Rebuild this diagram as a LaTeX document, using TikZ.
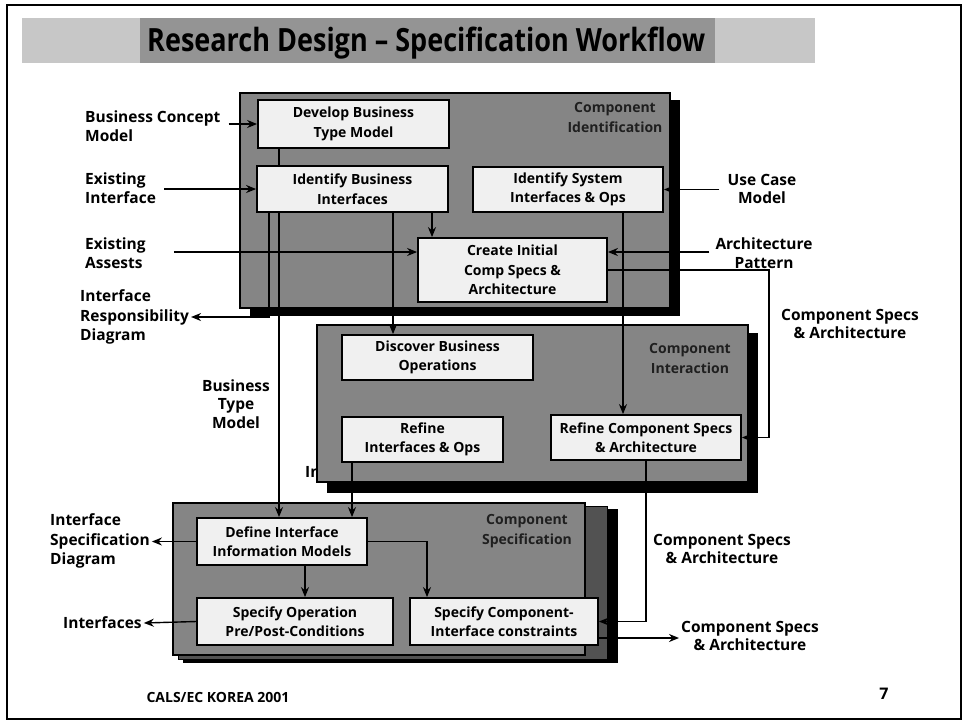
\documentclass[tikz,border=0pt]{standalone}
\usepackage{fontspec}
\setmainfont{Open Sans}
\usepackage{graphicx}
\usetikzlibrary{arrows.meta,calc}
\pgfdeclarelayer{under}
\pgfdeclarelayer{panels}
\pgfdeclarelayer{lines}
\pgfsetlayers{under,panels,lines,main}

\tikzset{
  box/.style={draw=black, line width=1.8pt, fill=black!6, align=center,
    font=\bfseries\fontsize{14}{19.5}\selectfont, inner sep=0pt},
  lbl/.style={align=left, font=\bfseries\fontsize{15.5}{19.5}\selectfont, inner sep=2pt},
  clbl/.style={align=center, font=\bfseries\fontsize{15.5}{18.5}\selectfont, inner sep=2pt},
  ptitle/.style={align=center, text=black!88, font=\bfseries\fontsize{14}{20}\selectfont},
  panel/.style={fill=black!48, draw=black, line width=1.2pt},
  arr/.style={draw=black, line width=1.4pt, -{Stealth[length=10pt,width=8pt]}},
}

\begin{document}
\begin{tikzpicture}[x=1pt,y=-1pt]
\useasboundingbox (0,0) rectangle (966,724);

\begin{pgfonlayer}{under}
  % page background
  \fill[white] (0,0) rectangle (966,724);
  % label tucked under the interaction panel
  \node[lbl, anchor=west] (ifchid) at (303,472) {Interfaces};
\end{pgfonlayer}

% slide frame
\draw[line width=1.4pt] (7,5) rectangle (961,719);

% title band
\fill[black!22] (22,18) rectangle (815,63);
\fill[black!42] (140,18) rectangle (715,63);
\node[anchor=base west, inner sep=0pt] (title) at (147,51)
  {\resizebox{558pt}{\height}{\bfseries\fontsize{32}{32}\selectfont Research Design – Specification Workflow}};

% stage panels with their shadows
\begin{pgfonlayer}{panels}
  % Component Identification
  \fill[black] (250,100) rectangle (680,316);
  \filldraw[panel] (240,93) rectangle (670,308);
  % Component Interaction
  \fill[black] (327,333) rectangle (758,493);
  \filldraw[panel] (317,325) rectangle (748,482);
  % Component Specification (stacked sheets)
  \fill[black] (183,509) rectangle (618,663);
  \filldraw[fill=black!68, draw=black, line width=1pt] (178,506) rectangle (607,659);
  \filldraw[panel] (173,503) rectangle (585,655);
\end{pgfonlayer}

% panel headings
\node[ptitle] (pt1) at (615,117) {Component\\Identification};
\node[ptitle] (pt2) at (690,358) {Component\\Interaction};
\node[ptitle] (pt3) at (527,531) {Component\\Specification};

% activity boxes
\node[box, minimum width=191pt, minimum height=48pt] (dev) at (353.5,124) {Develop Business\\Type Model};
\node[box, minimum width=191pt, minimum height=46pt] (ibi) at (352.5,189) {Identify Business\\Interfaces};
\node[box, minimum width=190pt, minimum height=45pt] (isi) at (568,189.5) {Identify System\\Interfaces \& Ops};
\node[box, minimum width=189pt, minimum height=64pt] (cis) at (512.5,270) {Create Initial\\Comp Specs \&\\Architecture};
\node[box, minimum width=191pt, minimum height=45pt] (dbo) at (437.5,357.5) {Discover Business\\Operations};
\node[box, minimum width=161pt, minimum height=45pt] (rio) at (422.5,439.5) {Refine\\Interfaces \& Ops};
\node[box, minimum width=190pt, minimum height=45pt] (rcs) at (646,437.5) {Refine Component Specs\\\& Architecture};
\node[box, minimum width=170pt, minimum height=47pt] (dii) at (282,541.5) {Define Interface\\Information Models};
\node[box, minimum width=196pt, minimum height=47pt] (sop) at (295,621.5) {Specify Operation\\Pre/Post-Conditions};
\node[box, minimum width=188pt, minimum height=47pt] (sci) at (504,621.5) {Specify Component-\\Interface constraints};

% artefact labels
\node[lbl, anchor=west] (bcm) at (83,126) {Business Concept\\Model};
\node[lbl, anchor=west] (exi) at (83,188) {Existing\\Interface};
\node[lbl, anchor=west] (exa) at (83,253) {Existing\\Assests};
\node[lbl, anchor=west] (ird) at (78,317) {Interface\\Responsibility\\Diagram};
\node[clbl] (btm) at (236,404) {Business\\Type\\Model};
\node[clbl] (ucm) at (762,189) {Use Case\\Model};
\node[clbl] (ap) at (764,253) {Architecture\\Pattern};
\node[clbl] (cs1) at (850,324) {Component Specs\\\& Architecture};
\node[clbl] (cs2) at (722,549) {Component Specs\\\& Architecture};
\node[clbl] (cs3) at (750,636) {Component Specs\\\& Architecture};
\node[lbl, anchor=west] (isd) at (48,541) {Interface\\Specification\\Diagram};
\node[lbl, anchor=west] (ifc) at (61,623) {Interfaces};

% footer
\node[font=\bfseries\fontsize{14}{16}\selectfont, anchor=west] (foot) at (143,697) {CALS/EC KOREA 2001};
\node[font=\bfseries\fontsize{16}{17}\selectfont] (pg) at (884,694) {7};

% connector attachment points
\coordinate (cisin) at ([yshift=18pt]cis.west);
\coordinate (cisap) at ([yshift=18pt]cis.east);
\coordinate (ibiA) at ([xshift=79.5pt]ibi.south);
\coordinate (ibiB) at ([xshift=40.5pt]ibi.south);
\coordinate (ibiC) at ([xshift=-83.5pt]ibi.south);
\coordinate (isiA) at ([xshift=55pt]isi.south);
\coordinate (devA) at ([xshift=-74.5pt]dev.south);
\coordinate (rioA) at ([xshift=-70.5pt]rio.south);
\coordinate (diiA) at ([xshift=23pt]dii.south);
\coordinate (sciA) at ([xshift=-77pt]sci.north);
\coordinate (sciB) at ([yshift=-16.5pt]sci.east);

\begin{pgfonlayer}{lines}
  % inputs
  \draw[arr, shorten <=6pt] (bcm.east |- dev.west) -- (dev.west);
  \draw[arr, shorten <=6pt] (exi.east |- ibi.west) -- (ibi.west);
  \draw[arr, shorten <=26pt] (exa.east |- cisin) -- (cisin);
  \draw[arr, shorten <=6pt] (ucm.west |- isi.east) -- (isi.east);
  \draw[arr, shorten <=4pt] (ap.west |- cisap) -- (cisap);
  % identification flow
  \draw[arr] (ibiA) -- (ibiA |- cis.north);
  \draw[arr] (ibiB) -- (ibiB |- dbo.north);
  \draw[arr] (isiA) -- (isiA |- rcs.north);
  \draw[arr] (ibiC) |- (ird.east);
  \draw[arr] (devA) -- (devA |- dii.north);
  \draw[arr] (cis.east) -- ++(161,0) |- (rcs.east);
  % interaction to specification
  \draw[arr] (rioA) -- (rioA |- dii.north);
  \draw[arr] (rcs.south) |- (sci.east);
  % specification flow
  \draw[arr] (diiA) -- (diiA |- sop.north);
  \draw[arr] (dii.east) -| (sciA);
  \draw[arr] (dii.west) -- (isd.east |- dii.west);
  \draw[arr] (sop.west) -- (ifc.east);
  \draw[arr] (sciB) -- (cs3.west |- sciB);
\end{pgfonlayer}
\end{tikzpicture}
\end{document}
